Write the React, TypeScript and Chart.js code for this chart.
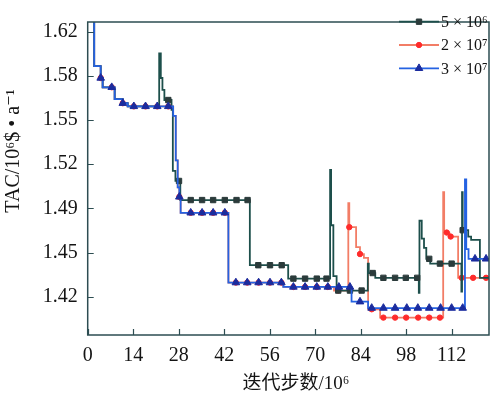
import React, { useEffect, useRef } from "react";
import { Chart, registerables } from "chart.js";

Chart.register(...registerables);

// ---------- data ----------
const X_TICKS = [0, 14, 28, 42, 56, 70, 84, 98, 112];
const Y_TICK_VALUES = [1.42, 1.4533, 1.4867, 1.52, 1.5533, 1.5867, 1.62];
const Y_TICK_LABELS = ["1.42", "1.45", "1.49", "1.52", "1.55", "1.58", "1.62"];
const X_MIN = 0;
const X_MAX = 123.5;
const Y_MIN = 1.3913;
const Y_MAX = 1.6272;

const SERIES_NAMES = ["5 × 10⁶", "2 × 10⁷", "3 × 10⁷"];

// step breakpoints [iteration/1e6, TAC]: value holds from x onward
const STEPS_5E6: [number, number][] = [
  [0, 1.66], [2.0, 1.594], [4.0, 1.585], [4.6, 1.578], [8.3, 1.569], [10.8, 1.566],
  [12.3, 1.5636], [22.0, 1.6036], [22.5, 1.585], [23.0, 1.576], [23.6, 1.5684],
  [25.8, 1.561], [26.2, 1.515], [27.0, 1.5074], [28.5, 1.493], [49.9, 1.4439],
  [61.7, 1.4338], [74.6, 1.5157], [74.9, 1.474], [75.6, 1.4356], [76.6, 1.4248],
  [86.2, 1.445], [86.5, 1.438], [88.5, 1.4344], [101.9, 1.423], [102.1, 1.4774],
  [102.8, 1.464], [103.5, 1.457], [104.2, 1.4487], [105.4, 1.4451], [115.0, 1.424],
  [115.2, 1.499], [115.4, 1.4703], [117.1, 1.4655], [118.0, 1.463], [120.7, 1.4344],
  [124, 1.4344],
];
const MARKS_5E6 = [
  24.8, 28.1, 31.7, 35.2, 38.6, 42.2, 45.8, 49.2, 52.5, 56.1, 59.7, 63.3, 66.9, 70.5,
  73.5, 77.1, 80.7, 84.3, 87.7, 91.0, 94.6, 97.9, 101.4, 105.1, 108.4, 112.0, 115.4,
];

const STEPS_2E7: [number, number][] = [
  [0, 1.66], [2.0, 1.594], [4.0, 1.585], [4.6, 1.578], [8.3, 1.569], [10.8, 1.566],
  [12.3, 1.5636], [26.3, 1.5564], [27.1, 1.5229], [27.7, 1.5026], [28.2, 1.4954],
  [28.6, 1.4834], [43.3, 1.4308], [60.2, 1.4275], [75.8, 1.4248], [80.2, 1.4906],
  [80.5, 1.4726], [82.6, 1.4575], [83.8, 1.4523], [85.0, 1.4495], [86.3, 1.4107],
  [90.0, 1.4044], [109.4, 1.499], [109.7, 1.4685], [111.3, 1.4655], [114.0, 1.4344],
  [124, 1.4344],
];
const MARKS_2E7 = [
  4.0, 7.4, 10.8, 14.2, 17.8, 21.4, 24.8, 28.2, 31.7, 35.2, 38.6, 42.2, 45.6, 49.1,
  52.6, 56.1, 59.6, 63.3, 66.9, 70.5, 73.9, 77.1, 80.5, 83.8, 87.4, 91.0, 94.6, 98.0,
  101.7, 105.1, 108.4, 110.5, 111.7, 115.1, 118.6, 122.6,
];

const STEPS_3E7: [number, number][] = [
  [0, 1.66], [2.0, 1.594], [4.0, 1.585], [4.6, 1.578], [8.3, 1.569], [10.8, 1.566],
  [12.3, 1.5636], [26.3, 1.5564], [27.1, 1.5229], [27.7, 1.5026], [28.2, 1.4954],
  [28.6, 1.4834], [43.3, 1.4308], [60.2, 1.4275], [81.2, 1.4164], [86.3, 1.4116],
  [116.1, 1.5085], [116.5, 1.456], [117.2, 1.4487], [124, 1.4487],
];
const MARKS_3E7 = [
  4.0, 7.4, 10.8, 14.2, 17.8, 21.4, 24.8, 28.2, 31.7, 35.2, 38.6, 42.2, 45.6, 49.1,
  52.6, 56.1, 59.6, 63.3, 66.9, 70.5, 73.9, 77.3, 80.7, 83.8, 87.4, 91.0, 94.6, 98.2,
  101.6, 105.1, 108.6, 112.0, 115.4, 119.2, 122.6,
];

// ---------- styles ----------
const FONT = '"Liberation Serif", "DejaVu Serif", serif';
const CJK_FONT = '"Liberation Serif", "Noto Sans CJK SC", serif';
const TEXT = "#141414";
const FRAME = "#2d4d52";

const STYLE_5E6 = { line: "#1d4f4b", fill: "#2b3b3b", shape: "rect", r: 3.8 };
const STYLE_2E7 = { line: "#f27d66", fill: "#ff2b2b", shape: "circle", r: 2.7 };
const STYLE_3E7 = { line: "#2462e2", fill: "#1b2c9e", shape: "triangle", r: 4.4 };

type P = { x: number; y: number; m: boolean };

function buildPoints(steps: [number, number][], marks: number[]): P[] {
  const pts: P[] = steps.map(([x, y]) => ({ x, y, m: false }));
  for (const xm of marks) {
    let y = steps[0][1];
    for (const [sx, sy] of steps) {
      if (sx <= xm) y = sy;
      else break;
    }
    pts.push({ x: xm, y, m: true });
  }
  pts.sort((a, b) => a.x - b.x || (a.m ? 1 : 0) - (b.m ? 1 : 0));
  return pts;
}

function makeDataset(label: string, steps: [number, number][], marks: number[], st: any) {
  return {
    label,
    data: buildPoints(steps, marks),
    stepped: true,
    borderColor: st.line,
    borderWidth: 1.8,
    fill: false,
    pointStyle: st.shape,
    pointRadius: (c: any) => (c.raw && c.raw.m ? st.r : 0),
    pointHoverRadius: 0,
    pointBackgroundColor: st.fill,
    pointBorderColor: st.fill,
    pointBorderWidth: 1,
  };
}

function drawMarker(ctx: CanvasRenderingContext2D, st: any, cx: number, y: number) {
  const r = st.r;
  ctx.beginPath();
  if (st.shape === "rect") {
    const s = r / Math.SQRT2;
    ctx.rect(cx - s, y - s, 2 * s, 2 * s);
  } else if (st.shape === "circle") {
    ctx.arc(cx, y, r, 0, Math.PI * 2);
  } else {
    ctx.moveTo(cx, y - r);
    ctx.lineTo(cx + r * 0.866, y + r * 0.5);
    ctx.lineTo(cx - r * 0.866, y + r * 0.5);
    ctx.closePath();
  }
  ctx.fill();
  ctx.stroke();
}

const decorPlugin = {
  id: "decor",
  afterDraw(chart: any) {
    const { ctx, chartArea } = chart;
    const { left, right, top, bottom } = chartArea;
    const xs = chart.scales.x;
    const ys = chart.scales.y;
    ctx.save();
    // frame
    ctx.strokeStyle = FRAME;
    ctx.lineWidth = 1.5;
    ctx.strokeRect(left, top, right - left, bottom - top);
    // inward ticks
    ctx.beginPath();
    for (const v of X_TICKS) {
      const px = Math.round(xs.getPixelForValue(v)) + 0.5;
      ctx.moveTo(px, bottom);
      ctx.lineTo(px, bottom - 6);
    }
    for (const v of Y_TICK_VALUES) {
      const py = Math.round(ys.getPixelForValue(v)) + 0.5;
      ctx.moveTo(left, py);
      ctx.lineTo(left + 6, py);
    }
    ctx.lineWidth = 1.2;
    ctx.stroke();

    // legend
    const styles = [STYLE_5E6, STYLE_2E7, STYLE_3E7];
    const rowsY = [21.7, 45, 68.3];
    const lx0 = 399;
    const lx1 = 439;
    styles.forEach((st, i) => {
      const y = rowsY[i];
      ctx.beginPath();
      ctx.strokeStyle = st.line;
      ctx.lineWidth = 1.8;
      ctx.moveTo(lx0, y);
      ctx.lineTo(lx1, y);
      ctx.stroke();
      ctx.fillStyle = st.fill;
      ctx.strokeStyle = st.fill;
      ctx.lineWidth = 1;
      drawMarker(ctx, st, (lx0 + lx1) / 2, y);
      ctx.fillStyle = TEXT;
      ctx.font = `16px ${FONT}`;
      ctx.textAlign = "left";
      ctx.textBaseline = "middle";
      ctx.fillText(SERIES_NAMES[i], 441, y + 1);
    });

    // axis titles
    ctx.fillStyle = TEXT;
    ctx.textAlign = "center";
    ctx.textBaseline = "middle";
    ctx.font = `19px ${CJK_FONT}`;
    ctx.fillText("迭代步数/10⁶", 296, 384);
    ctx.save();
    ctx.translate(14, 151);
    ctx.rotate(-Math.PI / 2);
    ctx.font = `20px ${FONT}`;
    ctx.fillText("TAC/10⁶$ • a⁻¹", 0, 0);
    ctx.restore();
    ctx.restore();
  },
};

export default function App() {
  const ref = useRef<HTMLCanvasElement | null>(null);
  useEffect(() => {
    if (!ref.current) return;
    const chart = new Chart(ref.current, {
      type: "line",
      data: {
        datasets: [
          makeDataset(SERIES_NAMES[2], STEPS_3E7, MARKS_3E7, STYLE_3E7),
          makeDataset(SERIES_NAMES[0], STEPS_5E6, MARKS_5E6, STYLE_5E6),
          makeDataset(SERIES_NAMES[1], STEPS_2E7, MARKS_2E7, STYLE_2E7),
        ] as any,
      },
      options: {
        animation: false,
        responsive: false,
        maintainAspectRatio: false,
        events: [],
        layout: { padding: { top: 6.7, right: 4, left: 0, bottom: 0 } },
        plugins: { legend: { display: false }, tooltip: { enabled: false } },
        scales: {
          x: {
            type: "linear",
            min: X_MIN,
            max: X_MAX,
            grid: { display: false, drawTicks: false },
            border: { display: false },
            afterBuildTicks: (s: any) => {
              s.ticks = X_TICKS.map((v) => ({ value: v }));
            },
            afterFit: (s: any) => {
              s.height = 65;
            },
            ticks: {
              autoSkip: false,
              maxRotation: 0,
              padding: 9,
              color: TEXT,
              font: { family: FONT, size: 20 },
              callback: (v: any) => String(v),
            },
          },
          y: {
            type: "linear",
            min: Y_MIN,
            max: Y_MAX,
            grid: { display: false, drawTicks: false },
            border: { display: false },
            afterBuildTicks: (s: any) => {
              s.ticks = Y_TICK_VALUES.map((v) => ({ value: v }));
            },
            afterFit: (s: any) => {
              s.width = 87.7;
            },
            ticks: {
              autoSkip: false,
              padding: 10,
              color: TEXT,
              font: { family: FONT, size: 20 },
              callback: (_v: any, i: number) => Y_TICK_LABELS[i],
            },
          },
        },
      } as any,
      plugins: [decorPlugin as any],
    });
    return () => chart.destroy();
  }, []);
  return (
    <div style={{ position: "absolute", left: 0, top: 0, width: 493, height: 400, background: "#fff" }}>
      <canvas ref={ref} width={493} height={400} style={{ width: 493, height: 400 }} />
    </div>
  );
}
